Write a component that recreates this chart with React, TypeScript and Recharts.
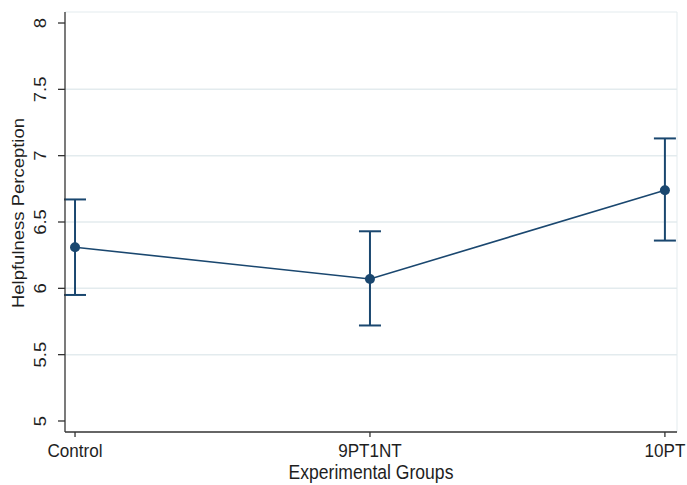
import { LineChart, Line, XAxis, YAxis, ErrorBar, ReferenceLine } from 'recharts';

// group means with 95% confidence limits
const groups = ['Control', '9PT1NT', '10PT'];
const groupPos = [1, 2, 3];
const means = [6.31, 6.07, 6.74];
const lower = [5.95, 5.72, 6.36];
const upper = [6.67, 6.43, 7.13];

const yTicks = [5, 5.5, 6, 6.5, 7, 7.5, 8];
const gridValues = [5.5, 6, 6.5, 7, 7.5];

const NAVY = '#1a476f';
const GRID = '#e3ebee';
const TEXT = '#1e1e1e';
const FONT = '"Liberation Sans", Arial, sans-serif';
const SQUASH = 0.9; // text in the source looks slightly narrow

const data = groups.map((g, i) => ({
  name: g,
  x: groupPos[i],
  mean: means[i],
  err: [means[i] - lower[i], upper[i] - means[i]],
}));

const X_DOMAIN: [number, number] = [0.966, 3.041];
const Y_DOMAIN: [number, number] = [4.917, 8.083];

const XTick = ({ x, y, payload }: any) => (
  <g transform={`translate(${x}, ${y + 18}) scale(${SQUASH}, 1)`}>
    <text x={0} y={0} textAnchor="middle" fontSize={19} fill={TEXT} fontFamily={FONT}>
      {groups[payload.value - 1]}
    </text>
  </g>
);

const YTick = ({ x, y, payload }: any) => (
  <g transform={`translate(${x - 10}, ${y}) scale(${SQUASH}, 1) rotate(-90)`}>
    <text x={0} y={0} textAnchor="middle" fontSize={18.5} fill={TEXT} fontFamily={FONT}>
      {payload.value}
    </text>
  </g>
);

const App = () => {
  return (
    <div style={{ position: 'absolute', left: 0, top: 0, background: '#fff' }}>
      <LineChart width={687} height={485} data={data} margin={{ top: 12, right: 10, bottom: 0, left: 0 }}>
        {gridValues.map((v) => (
          <ReferenceLine key={v} y={v} stroke={GRID} strokeWidth={1.5} />
        ))}
        <ReferenceLine y={Y_DOMAIN[1]} stroke={GRID} strokeWidth={1} />
        <ReferenceLine x={X_DOMAIN[1]} stroke={GRID} strokeWidth={1} />
        <XAxis
          dataKey="x"
          type="number"
          domain={X_DOMAIN}
          ticks={groupPos}
          allowDataOverflow
          height={53}
          tickSize={5}
          tick={<XTick />}
          stroke="#333"
          strokeWidth={1.3}
          label={{
            content: ({ viewBox }: any) => (
              <g transform={`translate(${viewBox.x + viewBox.width / 2}, 479) scale(${SQUASH}, 1)`}>
                <text x={0} y={0} textAnchor="middle" fontSize={19.5} fill={TEXT} fontFamily={FONT}>
                  Experimental Groups
                </text>
              </g>
            ),
          }}
        />
        <YAxis
          type="number"
          domain={Y_DOMAIN}
          ticks={yTicks}
          allowDataOverflow
          width={65}
          tickSize={7}
          tick={<YTick />}
          stroke="#333"
          strokeWidth={1.3}
          label={{
            content: () => (
              <g transform={`translate(24, 213) scale(${SQUASH}, 1) rotate(-90)`}>
                <text x={0} y={0} textAnchor="middle" fontSize={18.5} fill={TEXT} fontFamily={FONT}>
                  Helpfulness Perception
                </text>
              </g>
            ),
          }}
        />
        <Line
          dataKey="mean"
          stroke={NAVY}
          strokeWidth={1.6}
          dot={{ r: 5, fill: NAVY, stroke: NAVY, strokeWidth: 0 }}
          isAnimationActive={false}
        >
          <ErrorBar dataKey="err" direction="y" width={11} stroke={NAVY} strokeWidth={2} isAnimationActive={false} />
        </Line>
      </LineChart>
    </div>
  );
};

export default App;
